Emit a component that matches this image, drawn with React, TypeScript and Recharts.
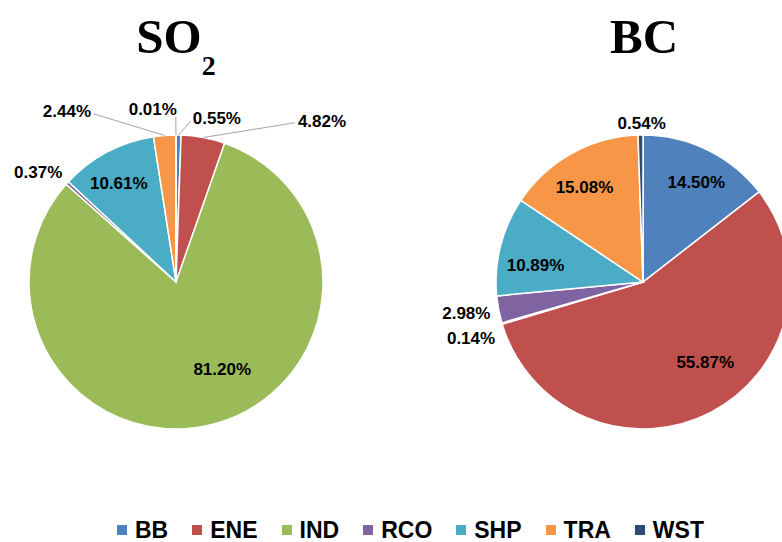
import React from 'react';
import { PieChart, Pie, Cell, Legend } from 'recharts';

const categories = ['BB', 'ENE', 'IND', 'RCO', 'SHP', 'TRA', 'WST'];
const so2Values = [0.55, 4.82, 81.2, 0.37, 10.61, 2.44, 0.01];
const bcValues = [14.5, 55.87, 0.14, 2.98, 10.89, 15.08, 0.54];
const colors = ['#4F81BD', '#C0504D', '#9BBB59', '#8064A2', '#4BACC6', '#F79646', '#2C4D75'];

const so2Data = categories.map((name, i) => ({ name, value: so2Values[i] }));
const bcData = categories.map((name, i) => ({ name, value: bcValues[i] }));

// label placement: radius factor of outer radius, angle shift from slice mid angle, optional leader anchor (relative to text centre)
type LabelLayout = { r: number; da: number; leader?: [number, number] };
const so2Layout: LabelLayout[] = [
  { r: 1.15, da: -13, leader: [-26, 3] },
  { r: 1.48, da: -31.5, leader: [-27, 2] },
  { r: 0.67, da: 13.5 },
  { r: 1.2, da: 3.7 },
  { r: 0.78, da: 2 },
  { r: 1.38, da: 28.1, leader: [27, 3] },
  { r: 1.19, da: 7.6, leader: [23, 8] },
];
const bcLayout: LabelLayout[] = [
  { r: 0.77, da: -2 },
  { r: 0.69, da: 10.6 },
  { r: 1.23, da: 1.6 },
  { r: 1.22, da: -0.9 },
  { r: 0.74, da: 5.2 },
  { r: 0.76, da: 2.5 },
  { r: 1.08, da: -0.5 },
];

const RAD = Math.PI / 180;
const FONT = '"Liberation Sans", Arial, sans-serif';

const makeLabel = (layout: LabelLayout[]) => (props: any) => {
  const { cx, cy, midAngle, outerRadius, index, value } = props;
  const l = layout[index];
  const ang = midAngle + l.da;
  const r = outerRadius * l.r;
  const x = cx + r * Math.cos(-ang * RAD);
  const y = cy + r * Math.sin(-ang * RAD);
  const sx = cx + outerRadius * Math.cos(-midAngle * RAD);
  const sy = cy + outerRadius * Math.sin(-midAngle * RAD);
  return (
    <g key={`lbl-${index}`}>
      {l.leader && (
        <line x1={sx} y1={sy} x2={x + l.leader[0]} y2={y + l.leader[1]} stroke="#A6A6A6" strokeWidth={1} />
      )}
      <text x={x} y={y + 6} textAnchor="middle" fontFamily={FONT} fontWeight="bold" fontSize={17} fill="#000">
        {Number(value).toFixed(2)}%
      </text>
    </g>
  );
};

const LegendContent = () => (
  <div
    style={{
      display: 'flex',
      alignItems: 'center',
      paddingLeft: 117,
      fontFamily: FONT,
      fontWeight: 'bold',
      fontSize: 23,
      lineHeight: '22px',
      height: 22,
      color: '#000',
      whiteSpace: 'nowrap',
    }}
  >
    {categories.map((c, i) => (
      <span key={c} style={{ display: 'flex', alignItems: 'center', marginRight: 24 }}>
        <span style={{ width: 10, height: 10, background: colors[i], marginRight: 8, display: 'inline-block' }} />
        <span>{c}</span>
      </span>
    ))}
  </div>
);

export default function App() {
  return (
    <div style={{ position: 'absolute', left: 0, top: 0, width: 782, height: 542, background: '#fff' }}>
      <PieChart width={782} height={542} margin={{ top: 0, right: 0, bottom: 0, left: 0 }}>
        <Pie
          data={so2Data}
          dataKey="value"
          nameKey="name"
          cx={176}
          cy={282}
          outerRadius={147}
          startAngle={90}
          endAngle={-270}
          stroke="#fff"
          strokeWidth={1.5}
          label={makeLabel(so2Layout)}
          labelLine={false}
          isAnimationActive={false}
        >
          {so2Data.map((d, i) => (
            <Cell key={d.name} fill={colors[i]} />
          ))}
        </Pie>
        <Pie
          data={bcData}
          dataKey="value"
          nameKey="name"
          cx={643}
          cy={282}
          outerRadius={147}
          startAngle={90}
          endAngle={-270}
          stroke="#fff"
          strokeWidth={1.5}
          label={makeLabel(bcLayout)}
          labelLine={false}
          isAnimationActive={false}
        >
          {bcData.map((d, i) => (
            <Cell key={d.name} fill={colors[i]} />
          ))}
        </Pie>
        <Legend
          verticalAlign="bottom"
          content={LegendContent}
          wrapperStyle={{ left: 0, top: 519, width: 782, height: 22 }}
        />
      </PieChart>
      <svg
        width={782}
        height={80}
        style={{ position: 'absolute', left: 0, top: 0, pointerEvents: 'none' }}
      >
        <text
          x={176}
          y={53}
          textAnchor="middle"
          fontFamily='"Liberation Serif", "Times New Roman", serif'
          fontWeight="bold"
          fontSize={49}
          fill="#000"
        >
          SO
          <tspan dy={22} fontSize={28}>2</tspan>
        </text>
        <text
          x={644}
          y={53}
          textAnchor="middle"
          fontFamily='"Liberation Serif", "Times New Roman", serif'
          fontWeight="bold"
          fontSize={49}
          fill="#000"
        >
          BC
        </text>
      </svg>
    </div>
  );
}
